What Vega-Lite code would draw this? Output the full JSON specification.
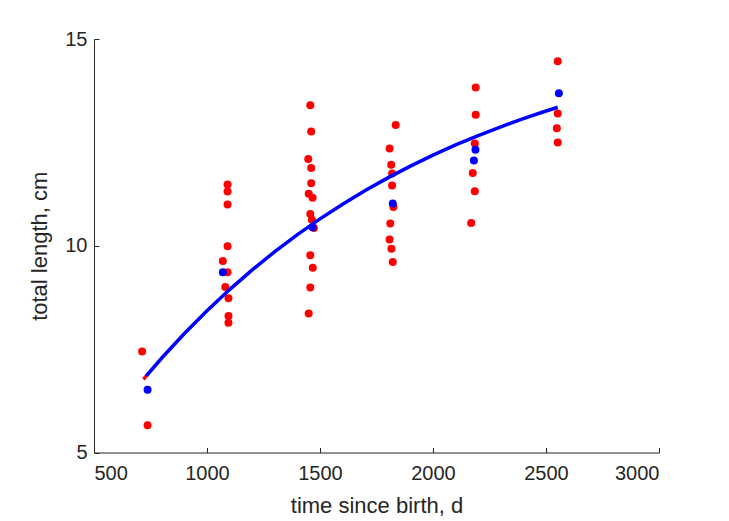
{
  "$schema": "https://vega.github.io/schema/vega-lite/v6.json",
  "width": 565,
  "height": 413.5,
  "autosize": {"type": "none"},
  "padding": {"left": 94, "top": 39, "right": 70, "bottom": 68.5},
  "background": "white",
  "config": {
    "view": {"stroke": null},
    "font": "Liberation Sans",
    "axis": {
      "domainColor": "#262626",
      "tickColor": "#262626",
      "labelColor": "#262626",
      "titleColor": "#262626",
      "labelFont": "Liberation Sans",
      "titleFont": "Liberation Sans",
      "labelFontSize": 20,
      "titleFontSize": 22,
      "titleFontWeight": "normal",
      "grid": false,
      "tickSize": -5,
      "domainWidth": 1,
      "tickWidth": 1,
      "format": "d"
    }
  },
  "datasets": {
    "obs": [
      {"t": 713, "L": 7.44}, {"t": 737, "L": 5.66},
      {"t": 1091, "L": 11.48}, {"t": 1091, "L": 11.31}, {"t": 1091, "L": 11.0}, {"t": 1091, "L": 9.99},
      {"t": 1070, "L": 9.63}, {"t": 1091, "L": 9.36}, {"t": 1081, "L": 9.0}, {"t": 1095, "L": 8.73},
      {"t": 1095, "L": 8.3}, {"t": 1095, "L": 8.14},
      {"t": 1457, "L": 13.4}, {"t": 1461, "L": 12.76}, {"t": 1448, "L": 12.1}, {"t": 1461, "L": 11.88},
      {"t": 1461, "L": 11.51}, {"t": 1450, "L": 11.26}, {"t": 1467, "L": 11.16}, {"t": 1457, "L": 10.77},
      {"t": 1464, "L": 10.63}, {"t": 1473, "L": 10.43}, {"t": 1457, "L": 9.77}, {"t": 1468, "L": 9.47},
      {"t": 1457, "L": 8.99}, {"t": 1450, "L": 8.36},
      {"t": 1835, "L": 12.92}, {"t": 1808, "L": 12.35}, {"t": 1815, "L": 11.96}, {"t": 1819, "L": 11.75},
      {"t": 1819, "L": 11.46}, {"t": 1825, "L": 10.94}, {"t": 1811, "L": 10.54}, {"t": 1808, "L": 10.15},
      {"t": 1816, "L": 9.93}, {"t": 1822, "L": 9.61},
      {"t": 2189, "L": 13.83}, {"t": 2189, "L": 13.17}, {"t": 2185, "L": 12.47}, {"t": 2176, "L": 11.76},
      {"t": 2185, "L": 11.32}, {"t": 2169, "L": 10.55},
      {"t": 2552, "L": 14.46}, {"t": 2552, "L": 13.2}, {"t": 2548, "L": 12.84}, {"t": 2552, "L": 12.5}
    ],
    "means": [
      {"t": 737, "L": 6.52}, {"t": 1070, "L": 9.36}, {"t": 1467, "L": 10.45},
      {"t": 1822, "L": 11.02}, {"t": 2188, "L": 12.32}, {"t": 2181, "L": 12.06}, {"t": 2557, "L": 13.69}
    ],
    "fitRed": [
      {"t": 719, "L": 6.77}, {"t": 735, "L": 6.88}
    ],
    "fitBlue": [
      {"t": 731, "L": 6.85}, {"t": 800, "L": 7.285}, {"t": 900, "L": 7.878}, {"t": 1000, "L": 8.429},
      {"t": 1100, "L": 8.94}, {"t": 1200, "L": 9.416}, {"t": 1300, "L": 9.858}, {"t": 1400, "L": 10.269},
      {"t": 1500, "L": 10.65}, {"t": 1600, "L": 11.005}, {"t": 1700, "L": 11.335}, {"t": 1800, "L": 11.641},
      {"t": 1900, "L": 11.926}, {"t": 2000, "L": 12.191}, {"t": 2100, "L": 12.437}, {"t": 2200, "L": 12.665},
      {"t": 2300, "L": 12.877}, {"t": 2400, "L": 13.075}, {"t": 2500, "L": 13.258}, {"t": 2552, "L": 13.349}
    ]
  },
  "encoding": {
    "x": {
      "field": "t", "type": "quantitative",
      "scale": {"domain": [500, 3000], "nice": false, "zero": false},
      "axis": {"values": [500, 1000, 1500, 2000, 2500, 3000], "title": "time since birth, d", "labelPadding": 16, "titlePadding": 12}
    },
    "y": {
      "field": "L", "type": "quantitative",
      "scale": {"domain": [5, 15], "nice": false, "zero": false},
      "axis": {"values": [5, 10, 15], "title": "total length, cm", "labelPadding": 12, "titlePadding": 13}
    }
  },
  "layer": [
    {"data": {"name": "obs"}, "mark": {"type": "circle", "size": 64, "color": "#FF0000", "opacity": 1}},
    {"data": {"name": "fitRed"}, "mark": {"type": "line", "color": "#FF0000", "strokeWidth": 3.5}},
    {"data": {"name": "fitBlue"}, "mark": {"type": "line", "color": "#0000FF", "strokeWidth": 3.5}},
    {"data": {"name": "means"}, "mark": {"type": "circle", "size": 64, "color": "#0000FF", "opacity": 1}}
  ]
}
